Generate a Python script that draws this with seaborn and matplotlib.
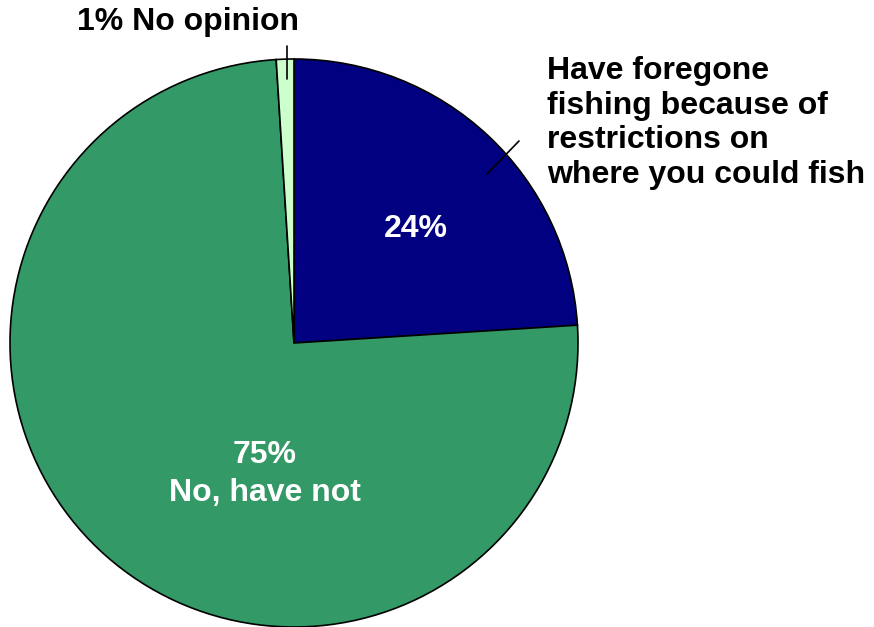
import matplotlib
matplotlib.use("Agg")
import matplotlib.pyplot as plt
import seaborn as sns

sns.set_style("white")
plt.rcParams['font.family'] = ['Liberation Sans', 'DejaVu Sans']

labels = ['Have foregone fishing because of\nrestrictions on where you could fish',
          'No, have not', 'No opinion']
shares = [24, 75, 1]
colors = ['#000080', '#339966', '#CCFFCC']

W, H = 874, 627
fig = plt.figure(figsize=(W / 100, H / 100), dpi=100)
ax = fig.add_axes([0, 0, 1, 1])

cx, cy, r = 294, H - 343, 284
ax.pie(shares, colors=colors, startangle=90, counterclock=False,
       center=(cx, cy), radius=r,
       wedgeprops=dict(edgecolor='black', linewidth=1.2))
ax.set_xlim(0, W)
ax.set_ylim(0, H)
ax.set_aspect('equal')
ax.axis('off')

fs = 23
ax.text(416, H - 229, f"{shares[0]}%", color='white', fontsize=fs,
        fontweight='bold', ha='center', va='center')
ax.text(265, H - 474, f"{shares[1]}%\n{labels[1]}", color='white', fontsize=fs,
        fontweight='bold', ha='center', va='center', linespacing=1.32)
ax.text(188, H - 22, f"{shares[2]}% {labels[2]}", color='black', fontsize=fs,
        fontweight='bold', ha='center', va='center')
ax.text(547, H - 123, "Have foregone\nfishing because of\nrestrictions on\nwhere you could fish",
        color='black', fontsize=fs, fontweight='bold', ha='left', va='center',
        linespacing=1.19)

# leader lines
ax.plot([287, 287], [H - 46, H - 79], color='black', lw=1.2)
ax.plot([519, 487], [H - 141, H - 174], color='black', lw=1.2)

fig.savefig("out.png", dpi=100)
